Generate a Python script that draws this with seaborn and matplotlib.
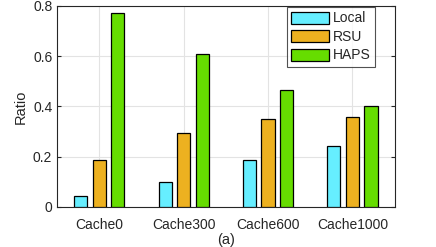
import pandas as pd
import seaborn as sns
import matplotlib.pyplot as plt

# Data
caches = ["Cache0", "Cache300", "Cache600", "Cache1000"]
local = [0.042, 0.098, 0.186, 0.242]
rsu = [0.186, 0.294, 0.351, 0.357]
haps = [0.772, 0.610, 0.465, 0.400]
series = ["Local", "RSU", "HAPS"]
colors = ["#66EEFF", "#EDB120", "#66DD00"]

df = pd.DataFrame({"cache": caches, "Local": local, "RSU": rsu, "HAPS": haps})
df = df.melt(id_vars="cache", var_name="source", value_name="ratio")

sns.set_style("ticks")
plt.rcParams['font.family'] = ['Liberation Sans', 'DejaVu Sans']

fig, ax = plt.subplots(figsize=(4.36, 2.47), dpi=100)
fig.subplots_adjust(left=0.131, right=0.905, top=0.976, bottom=0.162)

sns.barplot(data=df, x="cache", y="ratio", hue="source", hue_order=series,
            palette=colors, width=0.66, gap=0.29, edgecolor="black",
            linewidth=0.9, saturation=1, ax=ax, zorder=3)

ax.set_xlim(-0.5, 3.5)
ax.set_ylim(0, 0.8)
ax.set_yticks([0, 0.2, 0.4, 0.6, 0.8])
ax.set_yticklabels(["0", "0.2", "0.4", "0.6", "0.8"])
ax.grid(True, color="#e3e3e3", linewidth=0.8, zorder=0)
ax.set_axisbelow(True)
ax.tick_params(direction="in", length=3, labelsize=10, colors="#262626",
               right=True, top=False, bottom=False)
ax.tick_params(axis="x", pad=8)
for s in ax.spines.values():
    s.set_visible(True)
    s.set_color("#262626")
    s.set_linewidth(0.8)
ax.set_ylabel("Ratio", fontsize=10.5, color="#262626")
ax.set_xlabel("(a)", fontsize=10.5, color="#262626", labelpad=1)

leg = ax.legend(loc="upper right", fontsize=10, frameon=True, fancybox=False,
                edgecolor="#262626", handlelength=2.7, handleheight=0.96,
                handletextpad=0.3, labelspacing=0.32, borderpad=0.3,
                borderaxespad=0.1, bbox_to_anchor=(0.945, 1.0))
leg.get_frame().set_linewidth(0.8)

fig.savefig("out.png", dpi=100)
